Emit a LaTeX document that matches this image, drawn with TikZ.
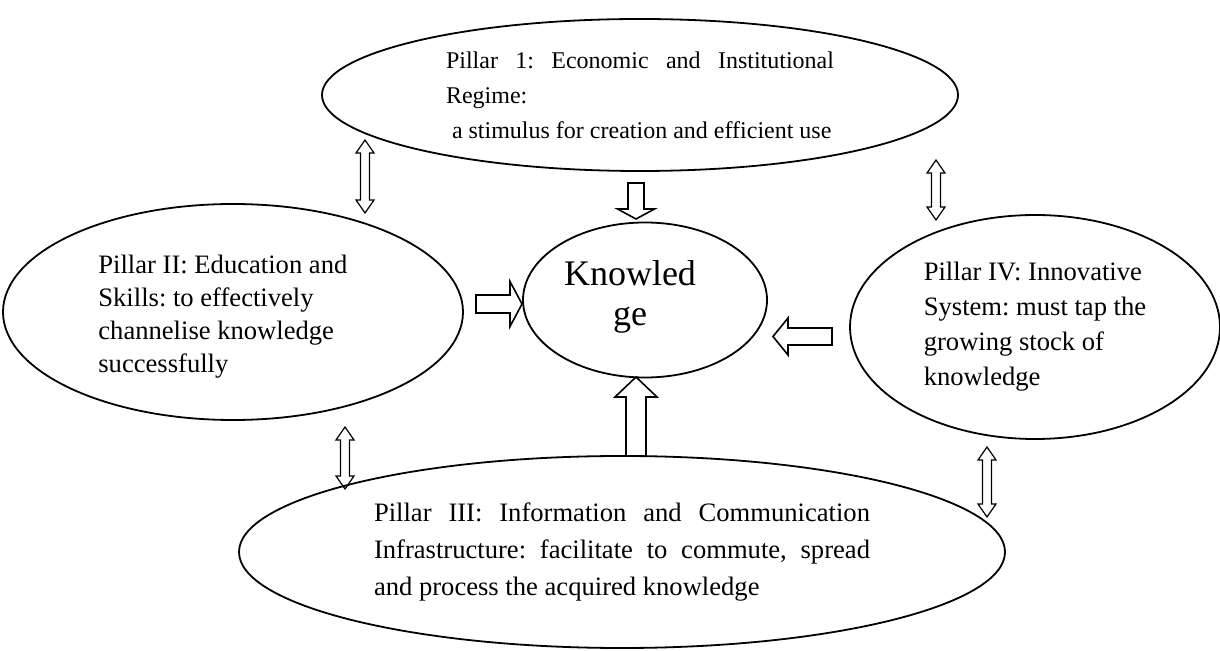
\documentclass[tikz,border=0pt]{standalone}
\usepackage{fontspec}
\setmainfont{Liberation Serif}
\usetikzlibrary{shapes.geometric}
\hyphenpenalty=10000
\frenchspacing

% block arrow, vertical: x, tail y, head base y, tip y, half shaft, half head
\newcommand{\vflow}[6]{%
    \draw[flow] (#1-#5,#2) -- (#1-#5,#3) -- (#1-#6,#3) -- (#1,#4) -- (#1+#6,#3)
        -- (#1+#5,#3) -- (#1+#5,#2) -- cycle;}
% block arrow, horizontal: y, tail x, head base x, tip x, half shaft, half head
\newcommand{\hflow}[6]{%
    \draw[flow] (#2,#1-#5) -- (#3,#1-#5) -- (#3,#1-#6) -- (#4,#1) -- (#3,#1+#6)
        -- (#3,#1+#5) -- (#2,#1+#5) -- cycle;}
% two-way link, vertical: x, top tip y, bottom tip y
\newcommand{\twoway}[3]{%
    \draw[link] (#1,#2) -- (#1+9,#2+13) -- (#1+4.5,#2+13) -- (#1+4.5,#3-13) -- (#1+9,#3-13)
        -- (#1,#3) -- (#1-9,#3-13) -- (#1-4.5,#3-13) -- (#1-4.5,#2+13) -- (#1-9,#2+13) -- cycle;}

\begin{document}
\begin{tikzpicture}[x=0.5pt, y=-0.5pt,
    pillar/.style={draw, ellipse, inner sep=0pt, line width=0.9pt},
    pillartext/.style={font=\fontsize{13.3}{#1}\selectfont},
    flow/.style={line width=0.8pt, line join=miter},
    link/.style={line width=0.6pt, line join=miter}]

    \useasboundingbox (0,0) rectangle (1220,651);

    % the four pillars and the centre
    \draw(640,95) node[pillar, minimum width=318pt, minimum height=76pt, text width=194pt,
        align=justify, font=\fontsize{12}{17.5}\selectfont] (pillarI)
    {Pillar 1: Economic and Institutional\linebreak Regime:\\\hspace*{0.25em}a stimulus for creation and efficient use};
    \draw(233,312) node[pillar, minimum width=230pt, minimum height=108pt] (pillarII) {};
    \draw(98,317) node[anchor=west, inner sep=0pt, align=left, pillartext=16.5] (pillarIIlabel)
    {Pillar II: Education and\\Skills: to effectively\\channelise knowledge\\successfully};
    \draw(645,300) node[pillar, minimum width=122pt, minimum height=77.5pt] (know) {};
    \draw(630,297) node[inner sep=0pt, align=center, font=\fontsize{18}{20}\selectfont]
        (knowlabel) {Knowled\\ge};
    \draw(1035,327) node[pillar, minimum width=185pt, minimum height=112pt, align=left,
        pillartext=17.5] (pillarIV)
    {Pillar IV: Innovative\\System: must tap the\\growing stock of\\knowledge};
    \draw(622,552) node[pillar, minimum width=383pt, minimum height=96pt, text width=248pt,
        align=justify, pillartext=18.5] (pillarIII)
    {Pillar III: Information and Communication\linebreak Infrastructure: facilitate to commute, spread\linebreak and process the acquired knowledge};

    % arrows into knowledge
    \vflow{636}{183}{209}{219}{8}{18.5}
    \hflow{304}{476}{510}{522}{9}{22.5}
    \hflow{336.5}{832}{788}{773}{8.5}{18.5}
    \vflow{636}{456}{397}{377}{10}{21}

    % links between pillars
    \twoway{365}{140}{213}
    \twoway{936}{160}{220}
    \twoway{345}{427}{489}
    \twoway{987}{447}{517}

\end{tikzpicture}
\end{document}
